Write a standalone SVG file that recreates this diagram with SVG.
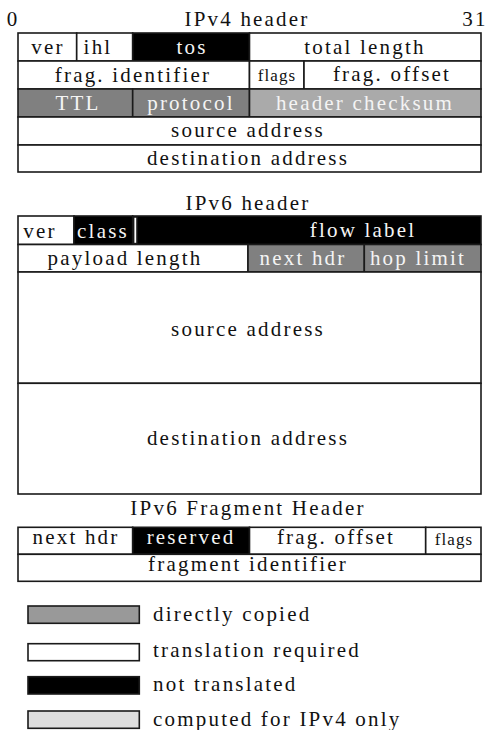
<svg xmlns="http://www.w3.org/2000/svg" width="487" height="730" viewBox="0 0 487 730">
  <style>
    text { font-family: "Liberation Serif", "Times New Roman", serif; font-size: 21px; letter-spacing: 2.2px; fill: #111; text-anchor: middle; }
    .inv { fill: #f4f4f4; }
    .small { font-size: 17px; letter-spacing: 1.1px; }
    .left { text-anchor: start; }
    rect { stroke: #1a1a1a; stroke-width: 1.6; }
    .w { fill: #ffffff; }
    .k { fill: #000000; }
    .g { fill: #808080; }
    .lg { fill: #aaaaaa; }
    .lgd { fill: #999999; }
    .lgl { fill: #dddddd; }
  </style>

  <!-- IPv4 header -->
  <g id="ipv4-title">
    <text x="13" y="26">0</text>
    <text x="247" y="26">IPv4 header</text>
    <text x="475" y="26">31</text>
  </g>
  <g id="v4-ver"><rect class="w" x="18" y="33" width="58.7" height="28"/><text x="48" y="54">ver</text></g>
  <g id="v4-ihl"><rect class="w" x="76.7" y="33" width="56" height="28"/><text x="98" y="54">ihl</text></g>
  <g id="v4-tos"><rect class="k" x="132.7" y="33" width="116.8" height="28"/><text class="inv" x="192" y="54">tos</text></g>
  <g id="v4-total-length"><rect class="w" x="249.5" y="33" width="231.5" height="28"/><text x="365" y="54">total length</text></g>
  <g id="v4-frag-id"><rect class="w" x="18" y="61" width="231.5" height="28"/><text x="133" y="82">frag. identifier</text></g>
  <g id="v4-flags"><rect class="w" x="249.5" y="61" width="54.5" height="28"/><text class="small" x="277" y="81">flags</text></g>
  <g id="v4-frag-offset"><rect class="w" x="304" y="61" width="177" height="28"/><text x="392" y="81">frag. offset</text></g>
  <g id="v4-ttl"><rect class="g" x="18" y="89" width="114.7" height="28"/><text class="inv" x="78" y="110">TTL</text></g>
  <g id="v4-protocol"><rect class="g" x="132.7" y="89" width="116.8" height="28"/><text class="inv" x="191" y="110">protocol</text></g>
  <g id="v4-checksum"><rect class="lg" x="249.5" y="89" width="231.5" height="28"/><text class="inv" x="365" y="110">header checksum</text></g>
  <g id="v4-src"><rect class="w" x="18" y="117" width="463" height="28"/><text x="248" y="137">source address</text></g>
  <g id="v4-dst"><rect class="w" x="18" y="145" width="463" height="27"/><text x="248" y="164.5">destination address</text></g>

  <!-- IPv6 header -->
  <g id="ipv6-title"><text x="248" y="210">IPv6 header</text></g>
  <g id="v6-ver"><rect class="w" x="18" y="216" width="56" height="28.5"/><text x="40" y="238">ver</text></g>
  <g id="v6-class"><rect class="k" x="74" y="216" width="58.7" height="28.5"/><text class="inv" x="103" y="238">class</text></g>
  <g id="v6-flow-label">
    <rect class="k" x="132.7" y="216" width="348.3" height="28.5"/>
    <rect x="133.6" y="217" width="3.4" height="26.6" fill="#ffffff" stroke="none"/>
    <text class="inv" x="363" y="237">flow label</text>
  </g>
  <g id="v6-payload-length"><rect class="w" x="18" y="244.5" width="230" height="27.5"/><text x="125" y="265">payload length</text></g>
  <g id="v6-next-hdr"><rect class="g" x="248" y="244.5" width="116.3" height="27.5"/><text class="inv" x="303" y="265">next hdr</text></g>
  <g id="v6-hop-limit"><rect class="g" x="364.3" y="244.5" width="116.7" height="27.5"/><text class="inv" x="418" y="265">hop limit</text></g>
  <g id="v6-src"><rect class="w" x="18" y="272" width="463" height="111.3"/><text x="248" y="336">source address</text></g>
  <g id="v6-dst"><rect class="w" x="18" y="383.3" width="463" height="110.7"/><text x="248" y="445">destination address</text></g>

  <!-- IPv6 fragment header -->
  <g id="frag-title"><text x="248" y="515">IPv6 Fragment Header</text></g>
  <g id="frag-next-hdr"><rect class="w" x="18" y="527.3" width="114.7" height="27"/><text x="76" y="543.5">next hdr</text></g>
  <g id="frag-reserved"><rect class="k" x="132.7" y="527.3" width="116.8" height="27"/><text class="inv" x="191" y="543.5">reserved</text></g>
  <g id="frag-offset"><rect class="w" x="249.5" y="527.3" width="176.2" height="27"/><text x="336" y="543.5">frag. offset</text></g>
  <g id="frag-flags"><rect class="w" x="425.7" y="527.3" width="55.3" height="27"/><text class="small" x="454" y="545">flags</text></g>
  <g id="frag-identifier"><rect class="w" x="18" y="554.3" width="463" height="27"/><text x="248" y="570.5">fragment identifier</text></g>

  <!-- Legend -->
  <g id="legend-copied"><rect class="lgd" x="28" y="606" width="111.3" height="17.3"/><text class="left" x="153" y="621">directly copied</text></g>
  <g id="legend-translated"><rect class="w" x="28" y="643.7" width="111.3" height="17"/><text class="left" x="153" y="657">translation required</text></g>
  <g id="legend-not-translated"><rect class="k" x="28" y="676.7" width="111.3" height="17.3"/><text class="left" x="153" y="691">not translated</text></g>
  <g id="legend-computed"><rect class="lgl" x="28" y="711" width="111.3" height="17.3"/><text class="left" x="153" y="726">computed for IPv4 only</text></g>
</svg>
